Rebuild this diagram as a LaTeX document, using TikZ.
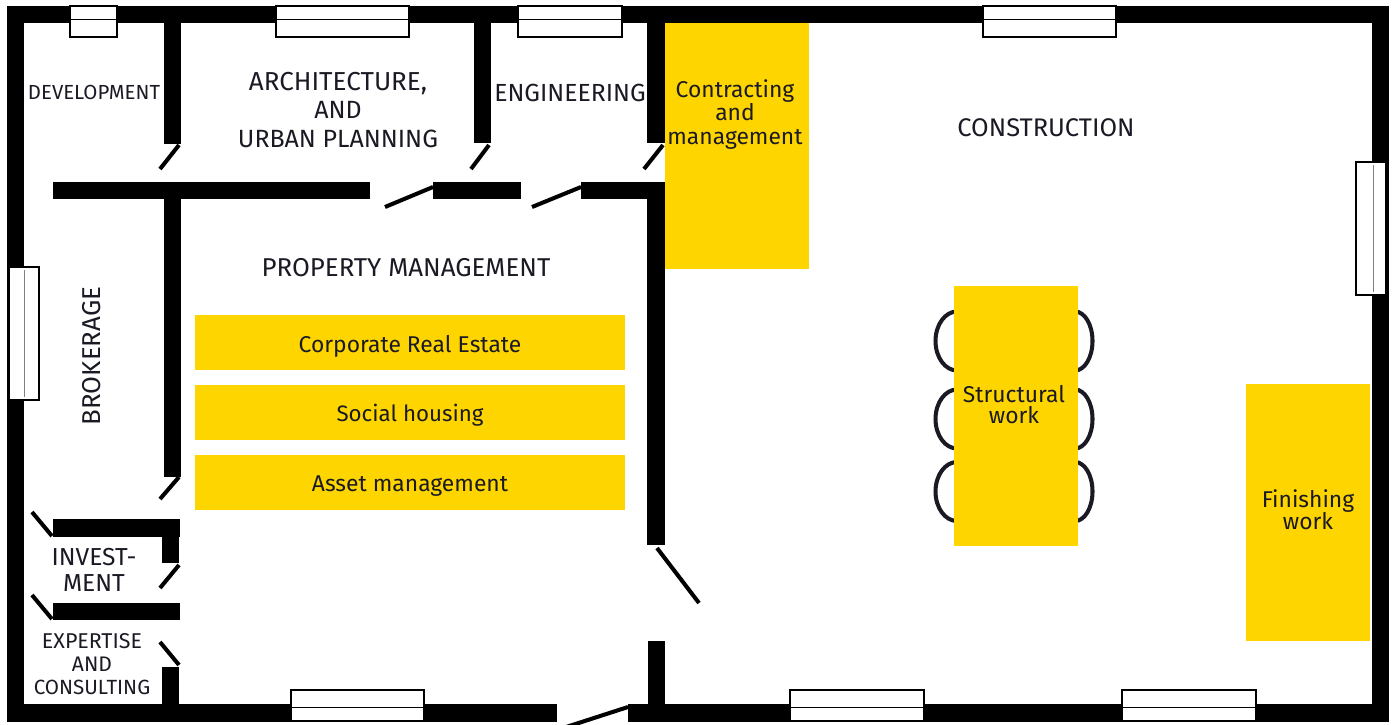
\documentclass[tikz,border=0pt]{standalone}
\usepackage{fontspec}
\setmainfont{Fira Sans}
\setlength{\lineskiplimit}{-20pt}
\setlength{\normallineskiplimit}{-20pt}
\definecolor{eyyellow}{HTML}{FFD500}
\definecolor{eyink}{HTML}{1A1A24}
\tikzset{
  wall/.style={fill=black,draw=none},
  swing/.style={line width=2.3pt,black},
  pane/.style={fill=white,draw=black,line width=0.85pt},
  desk/.style={fill=eyyellow,draw=none},
  chair/.style={draw=eyink,line width=2.3pt,fill=white},
  roomlabel/.style 2 args={text=eyink,align=center,inner sep=0pt,font=\fontsize{#1}{#2}\selectfont},
}
\begin{document}
\begin{tikzpicture}[x=0.02cm,y=-0.02cm]
\useasboundingbox (0,0) rectangle (1392,724);
\clip (0,0) rectangle (1392,724);

%outer walls
\fill[wall] (7,6) rectangle (1389,23);
\fill[wall] (7,6) rectangle (24,722);
\fill[wall] (1372,6) rectangle (1389,722);
\fill[wall] (7,704) rectangle (557,722);
\fill[wall] (628,704) rectangle (1389,722);

%inner walls, top row
\fill[wall] (164,23) rectangle (181,144);
\fill[wall] (474,23) rectangle (491,143);
\fill[wall] (647,23) rectangle (665,143);
\fill[wall] (53,182) rectangle (370,199);
\fill[wall] (433,182) rectangle (521,199);
\fill[wall] (581,182) rectangle (665,199);

%inner walls, middle and bottom
\fill[wall] (647,182) rectangle (665,545);
\fill[wall] (648,641) rectangle (665,722);
\fill[wall] (164,199) rectangle (181,477);
\fill[wall] (53,519) rectangle (180,537);
\fill[wall] (162,519) rectangle (179,563);
\fill[wall] (53,603) rectangle (180,620);
\fill[wall] (162,667) rectangle (179,704);

%doors
\draw[swing] (179,145)--(160,169);
\draw[swing] (489,145)--(471,169);
\draw[swing] (663,145)--(644,169);
\draw[swing] (433,187)--(385,207);
\draw[swing] (581,187)--(532,207);
\draw[swing] (179,477)--(160,499);
\draw[swing] (52,536)--(32,512);
\draw[swing] (179,565)--(160,588);
\draw[swing] (52,619)--(32,595);
\draw[swing] (160,642)--(179,665);
\draw[swing] (657,548)--(699,603);
\draw[swing] (628,707)--(560,729);

%windows
\draw[pane] (70,6) rectangle (117,37);
\draw[black,thin] (70,19.5)--(117,19.5);
\draw[pane] (276,6) rectangle (409,37);
\draw[black,thin] (276,19.5)--(409,19.5);
\draw[pane] (518,6) rectangle (622,37);
\draw[black,thin] (518,19.5)--(622,19.5);
\draw[pane] (983,6) rectangle (1116,37);
\draw[black,thin] (983,19.5)--(1116,19.5);
\draw[pane] (1356,162) rectangle (1386,295);
\draw[gray,thin] (1373,165)--(1373,292);
\draw[pane] (9,267) rectangle (39,400);
\draw[gray,thin] (24,270)--(24,397);
\draw[pane] (291,690) rectangle (424,721);
\draw[black,thin] (291,707)--(424,707);
\draw[pane] (790,690) rectangle (924,721);
\draw[black,thin] (790,707)--(924,707);
\draw[pane] (1122,690) rectangle (1256,721);
\draw[black,thin] (1122,707)--(1256,707);

%chairs
\draw[chair] (957,341) ellipse [x radius=21.5,y radius=29.5];
\draw[chair] (957,419) ellipse [x radius=21.5,y radius=29.5];
\draw[chair] (957,491.5) ellipse [x radius=21.5,y radius=29.5];
\draw[chair] (1075,341) ellipse [x radius=17.5,y radius=29.5];
\draw[chair] (1075,419) ellipse [x radius=17.5,y radius=29.5];
\draw[chair] (1075,491.5) ellipse [x radius=17.5,y radius=29.5];

%yellow desks
\fill[desk] (665,23) rectangle (809,269);
\fill[desk] (954,286) rectangle (1078,546);
\fill[desk] (1246,384) rectangle (1370,641);
\fill[desk] (195,315) rectangle (625,370);
\fill[desk] (195,385) rectangle (625,440);
\fill[desk] (195,455) rectangle (625,510);

%room names
\node[roomlabel={11.6}{13}] (development) at (94,92) {DEVELOPMENT};
\node[roomlabel={14.2}{16.1}] (architecture) at (338,110) {{\fontsize{14.8}{16.1}\selectfont ARCHITECTURE,}\\AND\\URBAN PLANNING};
\node[roomlabel={14.1}{16}] (engineering) at (570,93) {ENGINEERING};
\node[roomlabel={14.5}{16}] (construction) at (1046,127.5) {CONSTRUCTION};
\node[roomlabel={14.7}{16}] (propmgmt) at (406,267.5) {PROPERTY MANAGEMENT};
\node[roomlabel={14.7}{16},rotate=90] (brokerage) at (92,356) {BROKERAGE};
\node[roomlabel={14}{14.7}] (investment) at (94,570) {INVEST-\\MENT};
\node[roomlabel={12}{13}] (expertise) at (92,664) {\fontsize{12.2}{13}\selectfont EXPERTISE\\AND\\\fontsize{11.7}{13}\selectfont CONSULTING};

%desk names
\node[roomlabel={13}{13.6}] (contracting) at (735,114.5) {Contracting\\and\\management};
\node[roomlabel={13}{15}] (corporate) at (410,346) {Corporate Real Estate};
\node[roomlabel={12.7}{15}] (social) at (410,415.5) {Social housing};
\node[roomlabel={13}{15}] (asset) at (410,486) {Asset management};
\node[roomlabel={13}{11.9}] (structural) at (1014,405) {Structural\\work};
\node[roomlabel={13}{12.5}] (finishing) at (1308,510) {Finishing\\work};

\end{tikzpicture}
\end{document}
